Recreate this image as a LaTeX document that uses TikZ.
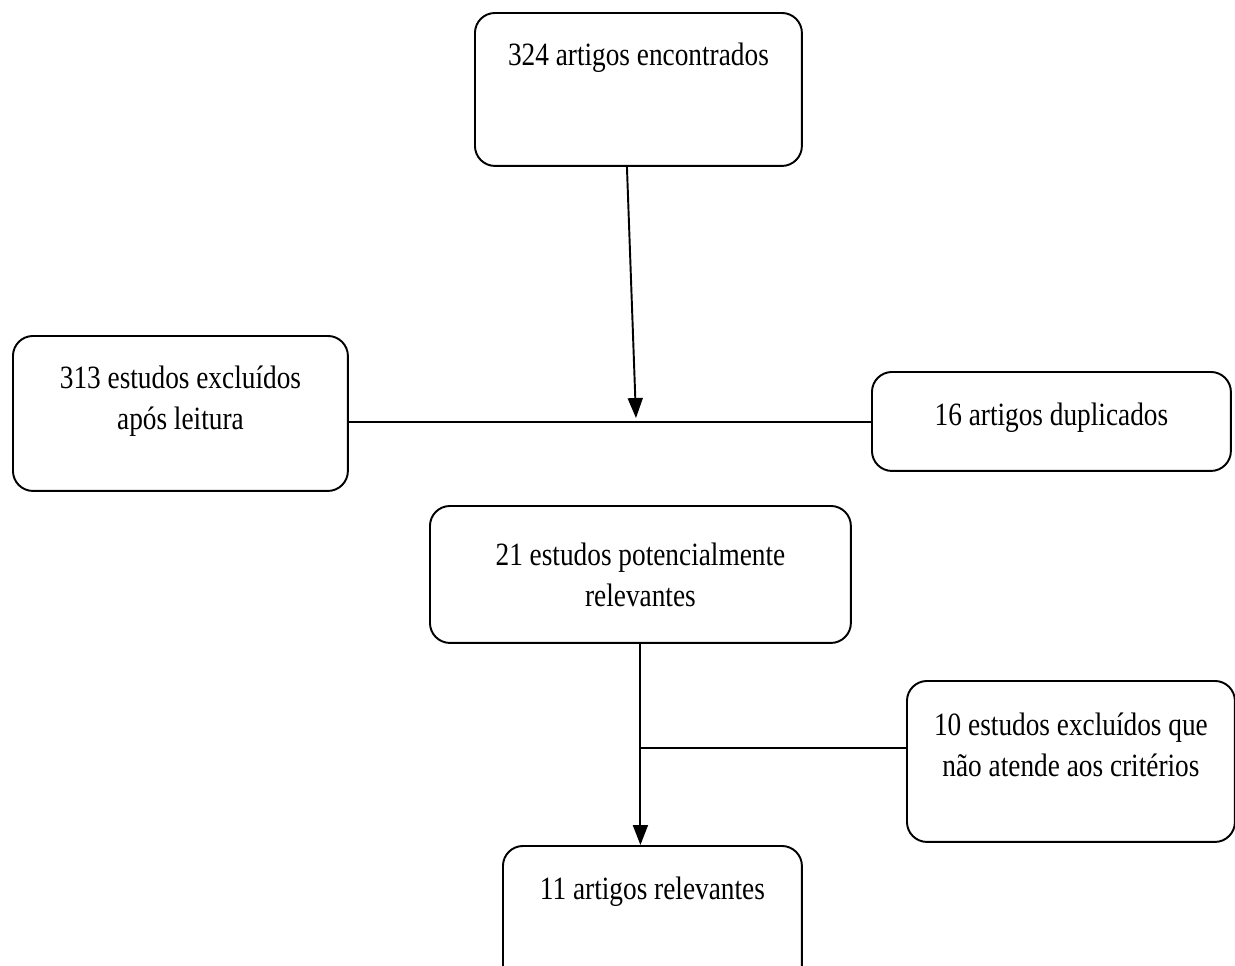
\documentclass[tikz,border=0pt]{standalone}
\usepackage{fontspec}
\setmainfont{Liberation Serif}[FakeStretch=0.84]
\usepackage{tikz}
\usetikzlibrary{arrows.meta}
\newcommand{\cx}[4]{\parbox[c][#2][t]{#1}{\centering\rule{0pt}{#3}#4\par}}

\tikzset{
  caixa/.style={draw, rounded corners=0.4cm, line width=1.1pt, inner sep=0pt, anchor=north west},
  seta/.style={line width=1.1pt, -{Triangle[length=0.4cm, width=0.3cm]}},
  linha/.style={line width=1.1pt}
}

\begin{document}
\begin{tikzpicture}[x=0.02cm, y=-0.02cm]
            \useasboundingbox (0, 0) rectangle (1235, 965);
            \fontsize{18.5}{22.8}\selectfont

            \node[caixa] (t0) at (474, 12) {\cx{6.54cm}{3.06cm}{1.06cm}{324 artigos encontrados}};
            \node[caixa] (excl) at (12, 335) {\cx{6.70cm}{3.10cm}{1.06cm}{313 estudos excluídos\\após leitura}};
            \node[caixa] (dup) at (871, 371) {\cx{7.18cm}{1.98cm}{1.08cm}{16 artigos duplicados}};
            \node[caixa] (pot) at (429, 505) {\cx{8.42cm}{2.74cm}{1.20cm}{21 estudos potencialmente\\relevantes}};
            \node[caixa] (crit) at (906, 680) {\cx{6.56cm}{3.22cm}{1.10cm}{10 estudos excluídos que\\não atende aos critérios}};
            \node[caixa] (rel) at (502, 845) {\cx{5.98cm}{2.80cm}{1.08cm}{11 artigos relevantes}};

            \coordinate (j1) at (636, 422);
            \coordinate (j2) at (640, 748);

            \draw[linha] (excl.east |- j1) -- (dup.west |- j1);
            \draw[seta] ([xshift=-0.23cm]t0.south) -- ([yshift=0.08cm]j1);
            \draw[seta] (pot.south) -- (pot.south |- rel.north);
            \draw[linha] (j2) -- (crit.west |- j2);

        \end{tikzpicture}
\end{document}
